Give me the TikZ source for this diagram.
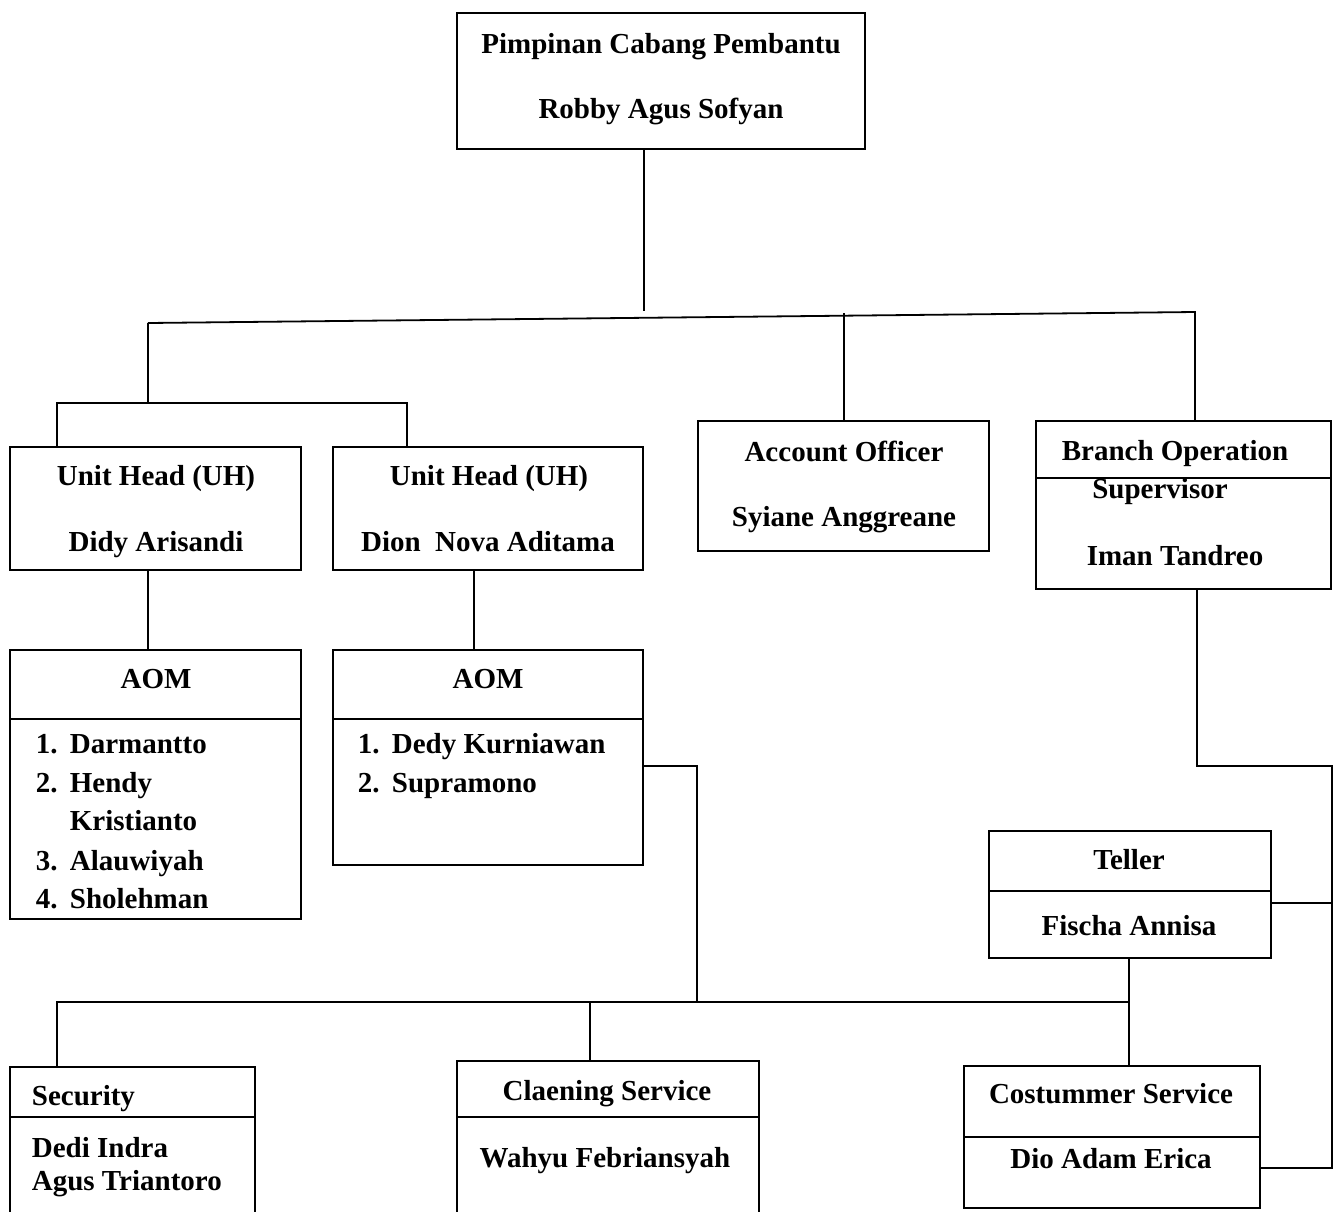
\documentclass[tikz,border=0pt]{standalone}
\usepackage{fontspec}
\setmainfont{Liberation Serif}
\begin{document}
\begin{tikzpicture}[x=1pt,y=-1pt, line width=1.8pt,
  box/.style={draw, rectangle, inner sep=0pt, outer sep=0pt, anchor=north west},
  openbox/.style={rectangle, inner sep=0pt, outer sep=0pt, anchor=north west},
  lbl/.style={font=\bfseries\fontsize{29}{34}\selectfont, anchor=base, inner sep=0pt},
  lbll/.style={lbl, anchor=base west}]
\useasboundingbox (0,0) rectangle (1339,1211);

% boxes
\node[box, minimum width=408pt, minimum height=136pt] (top) at (457,13) {};
\node[box, minimum width=291pt, minimum height=123pt] (uh1) at (10,447) {};
\node[box, minimum width=310pt, minimum height=123pt] (uh2) at (333,447) {};
\node[box, minimum width=291pt, minimum height=130pt] (ao) at (698,421) {};
\node[box, minimum width=295pt, minimum height=168pt] (bos) at (1036,421) {};
\node[box, minimum width=291pt, minimum height=269pt] (aom1) at (10,650) {};
\node[box, minimum width=310pt, minimum height=215pt] (aom2) at (333,650) {};
\node[box, minimum width=282pt, minimum height=127pt] (tel) at (989,831) {};
\node[box, minimum width=296pt, minimum height=142pt] (cs) at (964,1066) {};
\node[openbox, minimum width=245pt, minimum height=146pt] (sec) at (10,1067) {};
\node[openbox, minimum width=302pt, minimum height=152pt] (cln) at (457,1061) {};
\draw (sec.south west) -- (sec.north west) -- (sec.north east) -- (sec.south east);
\draw (cln.south west) -- (cln.north west) -- (cln.north east) -- (cln.south east);

% dividers
\draw (bos.west |- 0,478) -- (bos.east |- 0,478);
\draw (aom1.west |- 0,719) -- (aom1.east |- 0,719);
\draw (aom2.west |- 0,719) -- (aom2.east |- 0,719);
\draw (tel.west |- 0,891) -- (tel.east |- 0,891);
\draw (cs.west |- 0,1137) -- (cs.east |- 0,1137);
\draw (sec.west |- 0,1117) -- (sec.east |- 0,1117);
\draw (cln.west |- 0,1117) -- (cln.east |- 0,1117);

% texts
\node[lbl] (t1) at (661,53) {Pimpinan Cabang Pembantu};
\node[lbl] (t2) at (661,118) {Robby Agus Sofyan};
\node[lbl] (t3) at (156,485) {Unit Head (UH)};
\node[lbl] (t4) at (156,551) {Didy Arisandi};
\node[lbl] (t5) at (489,485) {Unit Head (UH)};
\node[lbl] (t6) at (488,551) {Dion\ \ Nova Aditama};
\node[lbl] (t7) at (844,461) {Account Officer};
\node[lbl] (t8) at (844,526) {Syiane Anggreane};
\node[lbl] (t9) at (1175,460) {Branch Operation};
\node[lbl] (t10) at (1160,498) {Supervisor};
\node[lbl] (t11) at (1175,565) {Iman Tandreo};
\node[lbl] (t12) at (156,688) {AOM};
\node[lbll] (n1a) at (35,753) {1.};
\node[lbll] (n1b) at (69,753) {Darmantto};
\node[lbll] (n2a) at (35,792) {2.};
\node[lbll] (n2b) at (69,792) {Hendy};
\node[lbll] (n2c) at (69,830) {Kristianto};
\node[lbll] (n3a) at (35,870) {3.};
\node[lbll] (n3b) at (69,870) {Alauwiyah};
\node[lbll] (n4a) at (35,908) {4.};
\node[lbll] (n4b) at (69,908) {Sholehman};
\node[lbl] (t13) at (488,688) {AOM};
\node[lbll] (m1a) at (357,753) {1.};
\node[lbll] (m1b) at (391,753) {Dedy Kurniawan};
\node[lbll] (m2a) at (357,792) {2.};
\node[lbll] (m2b) at (391,792) {Supramono};
\node[lbl] (t14) at (1129,869) {Teller};
\node[lbl] (t15) at (1129,935) {Fischa Annisa};
\node[lbl] (t16) at (1111,1103) {Costummer Service};
\node[lbl] (t17) at (1111,1168) {Dio Adam Erica};
\node[lbll] (t18) at (31,1105) {Security};
\node[lbll] (t19) at (31,1157) {Dedi Indra};
\node[lbll] (t20) at (31,1190) {Agus Triantoro};
\node[lbl] (t21) at (607,1100) {Claening Service};
\node[lbl] (t22) at (605,1167) {Wahyu Febriansyah};

% connectors
\coordinate (c0) at (644,311);
\coordinate (hl) at (148,323);
\coordinate (hr) at (1195,312);
\coordinate (uhj) at (148,403);
\coordinate (u1) at (57,403);
\coordinate (u2) at (407,403);
\coordinate (aoj) at (844,313);
\draw (c0 |- top.south) -- (c0);
\draw (hl) -- (hr) -- (hr |- bos.north);
\draw (hl) -- (uhj);
\draw (u1 |- uh1.north) -- (u1) -- (u2) -- (u2 |- uh2.north);
\draw (aoj) -- (aoj |- ao.north);
\draw (148,0 |- uh1.south) -- (148,0 |- aom1.north);
\draw (474,0 |- uh2.south) -- (474,0 |- aom2.north);

\coordinate (a2) at (697,766);
\coordinate (bj) at (697,1002);
\coordinate (bl) at (57,1002);
\coordinate (br) at (1129,1002);
\coordinate (bm) at (590,1002);
\draw (aom2.east |- a2) -- (a2) -- (bj);
\draw (bl |- sec.north) -- (bl) -- (br);
\draw (bm) -- (bm |- cln.north);
\draw (br |- tel.south) -- (br |- cs.north);

\coordinate (r1) at (1197,766);
\coordinate (r2) at (1332,766);
\coordinate (r3) at (1332,1168);
\coordinate (r4) at (1332,903);
\draw (r1 |- bos.south) -- (r1) -- (r2) -- (r3) -- (cs.east |- r3);
\draw (tel.east |- r4) -- (r4);
\end{tikzpicture}
\end{document}
